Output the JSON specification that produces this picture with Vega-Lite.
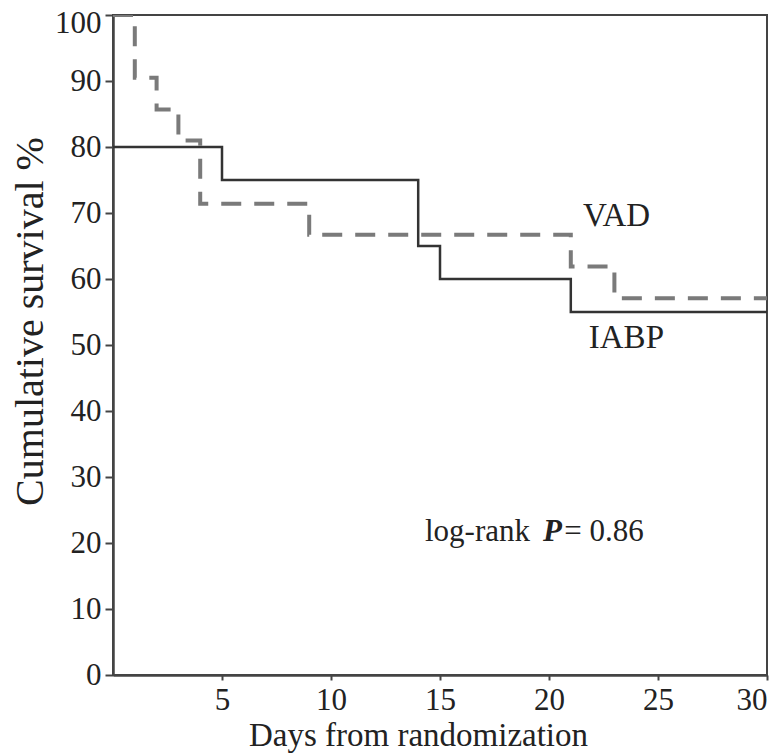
{
  "$schema": "https://vega.github.io/schema/vega-lite/v6.json",
  "autosize": "none",
  "width": 654,
  "height": 660,
  "padding": {"left": 113, "top": 15, "right": 15, "bottom": 80},
  "background": "white",
  "config": {
    "view": {"stroke": "#444", "strokeWidth": 2},
    "font": "Times New Roman",
    "text": {"font": "Times New Roman"},
    "axis": {"labelFont": "Times New Roman", "titleFont": "Times New Roman", "labelColor": "#222", "titleColor": "#222", "labelFontSize": 31, "titleFontSize": 34, "titleFontWeight": "normal", "domainColor": "#444", "domainWidth": 2.5, "tickColor": "#444", "tickWidth": 2, "grid": false}
  },
  "datasets": {
    "curves": [
      {"group": "IABP", "day": 0, "survival": 80},
      {"group": "IABP", "day": 5, "survival": 75},
      {"group": "IABP", "day": 14, "survival": 65},
      {"group": "IABP", "day": 15, "survival": 60},
      {"group": "IABP", "day": 21, "survival": 55},
      {"group": "IABP", "day": 30, "survival": 55},
      {"group": "VAD", "day": 0, "survival": 100},
      {"group": "VAD", "day": 1, "survival": 90.5},
      {"group": "VAD", "day": 2, "survival": 85.7},
      {"group": "VAD", "day": 3, "survival": 81},
      {"group": "VAD", "day": 4, "survival": 71.4},
      {"group": "VAD", "day": 9, "survival": 66.7},
      {"group": "VAD", "day": 21, "survival": 61.9},
      {"group": "VAD", "day": 23, "survival": 57.1},
      {"group": "VAD", "day": 30, "survival": 57.1}
    ],
    "labels": [
      {"label": "VAD", "day": 23.1, "survival": 69.5},
      {"label": "IABP", "day": 23.55, "survival": 51}
    ]
  },
  "layer": [
    {
      "data": {"name": "curves"},
      "transform": [{"filter": "datum.group === 'IABP'"}],
      "mark": {"type": "line", "interpolate": "step-after", "color": "#333", "strokeWidth": 2.5, "clip": true},
      "encoding": {
        "x": {"field": "day", "type": "quantitative", "scale": {"domain": [0, 30], "nice": false}, "axis": {"values": [5, 10, 15, 20, 25, 30], "title": "Days from randomization", "titleFontSize": 33, "tickSize": 5, "labelPadding": 5, "titlePadding": 4, "titleX": 305}},
        "y": {"field": "survival", "type": "quantitative", "scale": {"domain": [0, 100], "nice": false}, "axis": {"values": [0, 10, 20, 30, 40, 50, 60, 70, 80, 90, 100], "title": "Cumulative survival %", "titleFontSize": 40, "titleY": 306, "tickSize": 8, "labelPadding": 4, "titlePadding": 4, "labelOffset": {"condition": {"test": "datum.value === 100", "value": 8}, "value": 0}}}
      }
    },
    {
      "data": {"name": "curves"},
      "transform": [{"filter": "datum.group === 'VAD'"}],
      "mark": {"type": "line", "interpolate": "step-after", "color": "#7a7a7a", "strokeWidth": 4, "strokeDash": [20, 13], "clip": true},
      "encoding": {
        "x": {"field": "day", "type": "quantitative"},
        "y": {"field": "survival", "type": "quantitative"}
      }
    },
    {
      "data": {"name": "labels"},
      "mark": {"type": "text", "font": "Times New Roman", "fontSize": 33, "color": "#222", "align": "center", "baseline": "middle"},
      "encoding": {
        "x": {"field": "day", "type": "quantitative"},
        "y": {"field": "survival", "type": "quantitative"},
        "text": {"field": "label"}
      }
    },
    {
      "data": {"values": [
        {"t": "log-rank", "day": 14.31, "survival": 21.6},
        {"t": "= 0.86", "day": 20.7, "survival": 21.6}
      ]},
      "mark": {"type": "text", "font": "Times New Roman", "fontSize": 31, "color": "#222", "align": "left", "baseline": "middle"},
      "encoding": {
        "x": {"field": "day", "type": "quantitative"},
        "y": {"field": "survival", "type": "quantitative"},
        "text": {"field": "t"}
      }
    },
    {
      "data": {"values": [
        {"t": "P", "day": 19.72, "survival": 21.6}
      ]},
      "mark": {"type": "text", "font": "Times New Roman", "fontSize": 31, "fontWeight": "bold", "fontStyle": "italic", "color": "#222", "align": "left", "baseline": "middle"},
      "encoding": {
        "x": {"field": "day", "type": "quantitative"},
        "y": {"field": "survival", "type": "quantitative"},
        "text": {"field": "t"}
      }
    }
  ]
}
